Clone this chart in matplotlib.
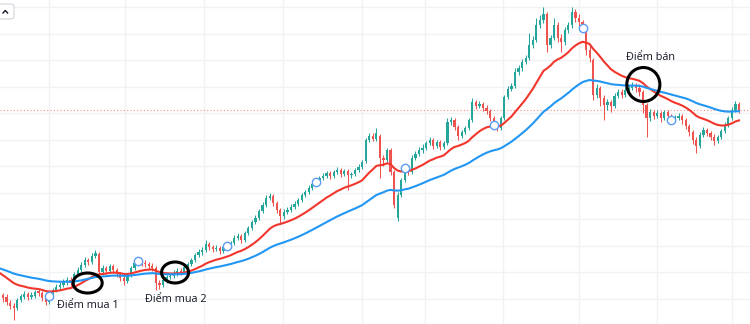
import numpy as np
import pandas as pd
import matplotlib
matplotlib.use("Agg")
import matplotlib.pyplot as plt
from matplotlib.patches import Ellipse, FancyBboxPatch
from matplotlib.lines import Line2D

plt.rcParams['font.family'] = ['Open Sans', 'DejaVu Sans']

# closes before the visible window (only used to seed the moving averages)
warmup_close = [30.0, 29.8, 29.5, 29.9, 29.6, 29.4, 29.7, 30.0, 29.5, 29.2,
                29.6, 29.8, 29.4, 29.2, 29.4, 28.8, 28.2, 27.6, 27.0, 26.5,
                26.1, 25.8, 26.0, 25.7, 26.2, 26.4, 26.6, 27.0, 27.3, 27.3,
                27.8, 28.2, 28.6, 28.8, 28.5, 28.7, 28.4, 28.2, 28.5, 28.3,
                28.0, 28.2, 28.0, 28.1, 27.8, 27.6, 27.3, 27.0, 26.6]

opens = [25.5, 25.3, 24.7, 24.4, 24.2, 25.0, 25.3, 25.6, 25.3, 25.4,
         25.9, 25.7, 25.2, 24.8, 25.4, 26.0, 26.3, 26.5, 26.8, 27.0,
         26.7, 27.6, 28.0, 28.5, 29.0, 28.8, 29.4, 29.6, 27.8, 28.2,
         27.9, 28.4, 28.0, 27.6, 27.2, 26.9, 27.5, 28.2, 28.7, 28.9,
         28.7, 28.6, 28.4, 28.2, 26.7, 26.5, 27.0, 27.3, 27.4, 27.7,
         27.9, 27.8, 28.3, 28.6, 29.0, 29.5, 29.8, 30.0, 30.6, 30.3,
         30.1, 30.2, 29.9, 30.3, 30.4, 30.7, 31.2, 31.4, 31.0, 31.7,
         32.2, 32.8, 33.2, 33.9, 34.5, 35.2, 35.4, 34.7, 34.0, 33.4,
         33.8, 34.0, 34.3, 34.6, 35.0, 35.5, 35.8, 36.2, 36.6, 36.8,
         37.2, 37.4, 37.7, 37.4, 37.8, 38.0, 37.6, 37.9, 37.5, 37.6,
         38.0, 38.3, 38.9, 41.0, 41.4, 41.1, 41.4, 39.2, 39.0, 40.0,
         37.8, 33.2, 35.5, 37.0, 38.2, 37.8, 39.2, 39.6, 40.0, 40.2,
         40.7, 41.0, 40.4, 40.8, 40.3, 40.7, 42.8, 43.0, 42.3, 41.4,
         41.8, 42.2, 43.0, 44.8, 44.4, 44.6, 44.2, 43.9, 43.2, 42.5,
         42.2, 43.2, 45.3, 46.1, 46.4, 47.8, 48.2, 48.8, 49.2, 50.5,
         51.0, 52.5, 53.0, 53.6, 50.5, 51.2, 52.5, 51.2, 50.8, 52.0,
         52.5, 53.8, 53.2, 52.8, 52.2, 50.0, 49.0, 45.5, 46.2, 45.2,
         44.5, 44.8, 44.4, 45.4, 45.8, 45.5, 46.0, 46.2, 46.5, 46.2,
         45.8, 44.5, 43.2, 43.8, 43.4, 43.7, 43.2, 43.8, 43.4, 43.0,
         43.2, 43.4, 43.0, 42.4, 41.8, 41.0, 40.4, 41.5, 42.0, 41.7,
         41.3, 40.9, 41.3, 41.9, 42.5, 43.2, 44.0, 44.6]

closes = [25.2, 24.8, 24.4, 24.2, 25.0, 25.4, 25.6, 25.3, 25.5, 25.8,
          25.7, 25.2, 24.8, 25.4, 26.0, 26.3, 26.5, 26.8, 27.0, 26.7,
          27.6, 28.0, 28.5, 29.0, 28.8, 29.4, 29.7, 27.8, 28.2, 27.9,
          28.4, 28.0, 27.6, 27.2, 26.9, 27.5, 28.2, 28.7, 28.9, 28.7,
          28.6, 28.4, 28.2, 26.7, 26.5, 27.0, 27.3, 27.4, 27.7, 27.9,
          27.8, 28.3, 28.6, 29.0, 29.5, 29.8, 30.0, 30.6, 30.3, 30.1,
          30.2, 29.9, 30.3, 30.4, 30.7, 31.2, 31.4, 31.0, 31.7, 32.2,
          32.8, 33.2, 33.9, 34.5, 35.2, 35.4, 34.7, 34.0, 33.4, 33.8,
          34.0, 34.3, 34.6, 35.0, 35.5, 35.8, 36.2, 36.6, 36.8, 37.2,
          37.4, 37.7, 37.4, 37.8, 38.0, 37.6, 37.9, 37.5, 37.6, 38.0,
          38.3, 38.8, 41.0, 41.4, 41.1, 41.7, 39.2, 39.0, 40.0, 37.8,
          34.5, 35.5, 37.0, 38.2, 37.8, 39.2, 39.6, 40.0, 40.2, 40.7,
          41.0, 40.4, 40.8, 40.3, 40.7, 42.8, 43.0, 42.3, 41.4, 41.8,
          42.2, 43.0, 44.8, 44.4, 44.6, 44.2, 43.9, 43.2, 42.5, 42.2,
          43.2, 45.3, 46.1, 46.4, 47.8, 48.2, 48.8, 49.2, 50.5, 51.0,
          52.5, 53.0, 53.6, 50.5, 51.2, 52.5, 51.2, 50.8, 52.0, 52.5,
          53.8, 53.2, 52.8, 52.2, 50.0, 49.2, 45.5, 46.2, 45.2, 44.5,
          44.8, 44.4, 45.4, 45.8, 45.5, 46.0, 46.2, 46.5, 46.2, 45.8,
          44.5, 43.2, 43.8, 43.4, 43.7, 43.2, 43.8, 43.4, 43.0, 43.2,
          43.4, 43.0, 42.4, 41.8, 41.0, 40.4, 41.5, 42.0, 41.7, 41.3,
          40.9, 41.3, 41.9, 42.5, 43.2, 44.0, 44.6, 44.0]

highs = [25.7, 25.6, 25.0, 24.7, 25.2, 25.6, 25.9, 25.8, 25.8, 26.0,
         26.1, 25.9, 25.4, 25.7, 26.2, 26.6, 26.8, 27.1, 27.3, 27.3,
         27.8, 28.3, 28.8, 29.3, 29.2, 29.7, 30.0, 29.8, 28.5, 28.4,
         28.6, 28.6, 28.2, 27.8, 27.4, 27.7, 28.4, 28.9, 29.2, 29.1,
         29.0, 28.8, 28.7, 28.4, 27.0, 27.2, 27.5, 27.7, 28.0, 28.2,
         28.2, 28.5, 28.8, 29.2, 29.7, 30.1, 30.3, 31.0, 30.8, 30.5,
         30.5, 30.4, 30.5, 30.7, 30.9, 31.5, 31.7, 31.6, 31.9, 32.4,
         33.0, 33.5, 34.1, 34.8, 35.5, 35.7, 35.6, 34.9, 34.2, 34.1,
         34.3, 34.6, 34.9, 35.2, 35.7, 36.0, 36.5, 36.8, 37.1, 37.4,
         37.7, 37.9, 37.9, 38.0, 38.3, 38.2, 38.1, 38.1, 37.8, 38.2,
         38.6, 39.0, 41.2, 41.7, 41.7, 42.2, 41.6, 39.5, 40.2, 40.2,
         38.0, 35.8, 37.2, 38.5, 38.5, 39.5, 39.9, 40.3, 40.6, 40.9,
         41.3, 41.2, 41.0, 41.0, 40.9, 43.2, 43.3, 43.2, 42.5, 42.0,
         42.4, 43.2, 45.2, 45.0, 44.9, 44.8, 44.5, 44.1, 43.4, 42.7,
         43.4, 45.5, 46.4, 46.7, 48.2, 48.5, 49.1, 49.5, 51.7, 51.4,
         53.2, 53.5, 54.3, 53.8, 51.5, 53.2, 52.8, 51.6, 52.3, 52.8,
         54.3, 54.1, 53.6, 53.0, 52.4, 50.4, 49.2, 46.6, 46.4, 45.5,
         45.1, 45.0, 45.7, 46.1, 46.1, 46.3, 46.5, 46.8, 46.7, 46.6,
         46.0, 44.7, 44.1, 44.0, 44.0, 43.9, 44.0, 44.0, 43.6, 43.5,
         43.7, 43.6, 43.2, 42.6, 42.0, 41.3, 41.8, 42.3, 42.2, 41.9,
         41.6, 41.5, 42.1, 42.8, 43.4, 44.3, 44.9, 44.8]

lows = [24.8, 24.5, 24.1, 23.0, 24.0, 24.8, 25.1, 25.0, 25.1, 25.2,
        25.4, 24.9, 24.5, 24.6, 25.2, 25.8, 26.0, 26.3, 26.5, 26.4,
        26.5, 27.4, 27.8, 28.3, 28.5, 28.6, 29.2, 27.6, 27.5, 27.6,
        27.7, 27.7, 27.3, 26.9, 26.5, 26.7, 27.3, 28.0, 28.5, 28.4,
        28.3, 28.1, 27.9, 26.0, 26.1, 26.3, 26.7, 27.1, 27.2, 27.4,
        27.5, 27.6, 28.1, 28.4, 28.8, 29.3, 29.5, 29.8, 30.0, 29.8,
        29.9, 29.6, 29.7, 30.1, 30.2, 30.5, 31.0, 30.7, 30.8, 31.5,
        32.0, 32.6, 33.0, 33.7, 34.3, 35.0, 34.4, 33.7, 32.6, 33.1,
        33.6, 33.8, 34.1, 34.4, 34.8, 35.3, 35.6, 36.0, 36.4, 36.6,
        37.0, 37.2, 37.1, 37.2, 37.6, 37.3, 37.4, 36.0, 37.2, 37.4,
        37.8, 38.1, 38.7, 40.8, 40.9, 40.9, 37.2, 38.4, 38.8, 37.5,
        34.2, 32.9, 35.3, 36.8, 37.5, 37.6, 39.0, 39.4, 39.7, 40.0,
        40.5, 40.1, 40.2, 40.0, 40.1, 40.5, 42.5, 42.0, 41.0, 41.2,
        41.6, 42.0, 42.8, 44.1, 44.2, 43.9, 43.6, 42.9, 42.2, 41.9,
        42.0, 43.0, 45.1, 45.9, 46.2, 47.5, 47.9, 48.6, 49.0, 50.2,
        50.8, 52.2, 52.7, 49.8, 50.2, 51.0, 50.8, 49.8, 50.5, 51.7,
        52.2, 52.8, 52.4, 51.8, 49.5, 48.8, 45.0, 45.2, 44.4, 43.0,
        44.0, 43.8, 44.2, 45.2, 45.2, 45.3, 45.7, 46.0, 45.8, 45.4,
        43.7, 41.3, 42.9, 43.1, 43.2, 42.8, 43.0, 43.1, 42.7, 42.8,
        43.0, 42.6, 42.1, 41.4, 40.6, 39.7, 40.2, 41.3, 41.4, 41.0,
        40.5, 40.7, 41.1, 41.7, 42.3, 43.0, 43.8, 43.7]

# first session of each month (vertical grid)
month_starts = [13, 34.3, 56.5, 78.7, 101, 118.7, 140.6, 162, 183.9, 205]
# price grid levels
price_levels = [54.3, 51.65, 49.0, 46.35, 43.7, 41.05, 38.4, 35.75,
                33.1, 30.45, 27.8, 25.15]
# sessions flagged with a small circle
flag_idx = [13, 38, 63, 88, 113, 138, 163, 188]

# annotated signals: (label, session, price, ellipse w, ellipse h, text session, text price)
signals = [("Điểm mua 1", 23.8, 26.7, 8.2, 2.0, 23.8, 24.5),
           ("Điểm mua 2", 48.4, 27.75, 7.6, 2.1, 48.5, 25.1),
           ("Điểm bán", 180.1, 46.55, 9.3, 3.4, 182.2, 49.2)]

UP = '#26a69a'
DOWN = '#ef5350'

o = np.array(opens)
c = np.array(closes)
h = np.array(highs)
l = np.array(lows)
x = np.arange(len(c))

all_close = pd.Series(warmup_close + closes,
                      index=np.arange(-len(warmup_close), len(closes)))
ema20 = all_close.ewm(span=20, adjust=False).mean()
ema50 = all_close.ewm(span=50, adjust=False).mean()

fig = plt.figure(figsize=(7.5, 3.24), dpi=100)
ax = fig.add_axes([0, 0, 1, 1])
ax.set_xlim(-0.84, 210.1)
ax.set_ylim(22.6, 55.0)
for s in ax.spines.values():
    s.set_visible(False)
ax.set_xticks([])
ax.set_yticks([])

for m in month_starts:
    ax.axvline(m, color='#f0f2f5', lw=1, zorder=0)
for p in price_levels:
    ax.axhline(p, color='#f0f2f5', lw=1, zorder=0)

# last price line
ax.axhline(c[-1], color='#f28b87', lw=0.8, ls=(0, (1, 2)), zorder=1)

colors = np.where(c >= o, UP, DOWN)
ax.vlines(x, l, h, colors=colors, lw=0.75, zorder=2)
body = np.maximum(np.abs(c - o), 0.08)
ax.bar(x, body, bottom=np.minimum(o, c), width=0.62, color=colors,
       linewidth=0, zorder=3)

vis = ema20.index >= -1
ax.plot(ema20.index[vis], ema20[vis], color='#f2362c', lw=1.5, zorder=4)
ax.plot(ema50.index[vis], ema50[vis], color='#2196f3', lw=1.5, zorder=4)

ax.plot(flag_idx, c[flag_idx], 'o', ms=6, mfc='white', mec='#5b9cf6',
        mew=1.0, zorder=5)

for label, ex, ey, ew, eh, tx, ty in signals:
    ax.add_patch(Ellipse((ex, ey), ew, eh, fill=False, ec='black', lw=2.2,
                         zorder=6))
    ax.text(tx, ty, label, fontsize=7.8, color='#131722', ha='center',
            va='center', zorder=7)

# collapse button in the corner
fig.patches.append(FancyBboxPatch((-6 / 750, 305 / 324), 20 / 750, 15 / 324,
                                  boxstyle='round,pad=0,rounding_size=0.006',
                                  transform=fig.transFigure, fc='white',
                                  ec='#d1d4dc', lw=0.8))
fig.lines.append(Line2D([3 / 750, 5.3 / 750, 7.6 / 750],
                        [311 / 324, 313.5 / 324, 311 / 324],
                        transform=fig.transFigure, color='#131722', lw=1.0))

fig.savefig('out.png', dpi=100, facecolor='white')
